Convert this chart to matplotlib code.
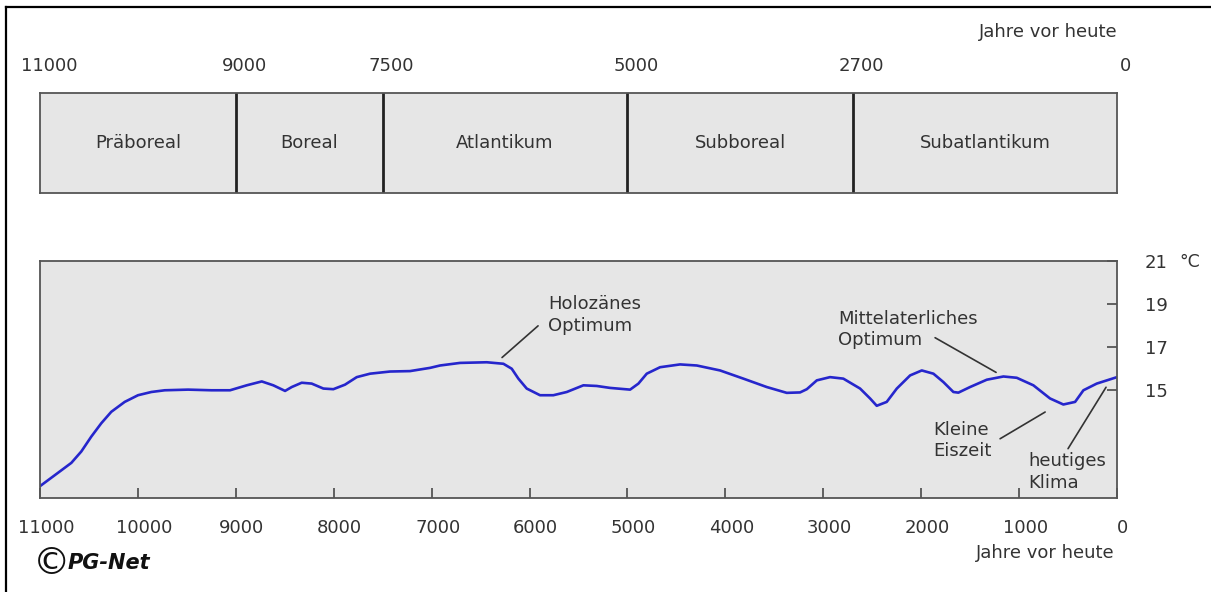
import matplotlib.pyplot as plt
from matplotlib.lines import Line2D
from matplotlib.transforms import ScaledTranslation

# Zeitabschnitte (Jahre vor heute)
grenzen = [11000, 9000, 7500, 5000, 2700, 0]
perioden = ['Präboreal', 'Boreal', 'Atlantikum', 'Subboreal', 'Subatlantikum']

# Temperaturkurve
jahre = [11000, 10816, 10680, 10578, 10476, 10374, 10272, 10135, 9999, 9863,
         9726, 9488, 9250, 9113, 9059, 8889, 8735, 8617, 8497, 8429,
         8327, 8225, 8106, 8004, 7885, 7765, 7629, 7425, 7221, 7016,
         6914, 6710, 6437, 6267, 6182, 6114, 6029, 5893, 5757, 5620,
         5450, 5314, 5178, 4973, 4888, 4803, 4667, 4463, 4292, 4054,
         3816, 3577, 3373, 3237, 3168, 3066, 2931, 2795, 2624, 2522,
         2454, 2352, 2249, 2113, 1994, 1875, 1773, 1671, 1620, 1501,
         1330, 1160, 1024, 854, 684, 548, 428, 343, 207, 0]
temp = [10.55, 11.17, 11.63, 12.16, 12.85, 13.47, 14.0, 14.46, 14.77, 14.92,
        15.0, 15.03, 15.0, 15.0, 15.0, 15.23, 15.41, 15.23, 14.97, 15.15,
        15.35, 15.31, 15.08, 15.05, 15.26, 15.61, 15.77, 15.87, 15.89, 16.04,
        16.15, 16.27, 16.3, 16.23, 16.0, 15.54, 15.08, 14.77, 14.77, 14.92,
        15.23, 15.2, 15.11, 15.03, 15.31, 15.77, 16.07, 16.2, 16.15, 15.92,
        15.54, 15.15, 14.88, 14.9, 15.05, 15.46, 15.61, 15.54, 15.08, 14.62,
        14.28, 14.46, 15.08, 15.69, 15.92, 15.77, 15.38, 14.92, 14.89, 15.15,
        15.49, 15.64, 15.58, 15.23, 14.62, 14.34, 14.46, 15.0, 15.31, 15.61]

x_ticks = [11000, 10000, 9000, 8000, 7000, 6000, 5000, 4000, 3000, 2000, 1000, 0]
y_ticks = [15, 17, 19, 21]

txt = '#333333'
fill = '#e6e6e6'
W, H = 1211, 592

fig = plt.figure(figsize=(W / 100, H / 100), dpi=100)
fig.patch.set_facecolor('white')

# Rahmen links/oben
fig.add_artist(Line2D([6 / W, 6 / W], [0, 1 - 7 / H], color='black', lw=1.6))
fig.add_artist(Line2D([6 / W, 1], [1 - 7 / H, 1 - 7 / H], color='black', lw=1.6))

# --- oberes Diagramm: Perioden ---
ax1 = fig.add_axes([40 / W, 1 - 193 / H, 1077 / W, 100 / H])
ax1.set_xlim(11000, 0)
ax1.set_ylim(0, 1)
ax1.set_facecolor(fill)
for s in ax1.spines.values():
    s.set_color('#555555')
    s.set_linewidth(1.3)
ax1.set_xticks([])
ax1.set_yticks([])
for g in grenzen[1:-1]:
    ax1.axvline(g, color='#222222', lw=2)
for i, name in enumerate(perioden):
    mitte = (grenzen[i] + grenzen[i + 1]) / 2
    ax1.text(mitte, 0.5, name, ha='center', va='center', fontsize=13, color=txt)
shift = ScaledTranslation(9 / 100, 0, fig.dpi_scale_trans)
for g in grenzen:
    ax1.text(g, 1.27, str(g), ha='center', va='center', fontsize=13, color=txt,
             transform=ax1.get_xaxis_transform() + shift)
fig.text(1118 / W, 1 - 32 / H, 'Jahre vor heute', ha='right', va='center',
         fontsize=13, color=txt)

# --- unteres Diagramm: Temperatur ---
ax2 = fig.add_axes([40 / W, 1 - 498 / H, 1077 / W, 237 / H])
ax2.set_xlim(11000, 0)
ax2.set_ylim(10, 21)
ax2.set_facecolor(fill)
for s in ax2.spines.values():
    s.set_color('#555555')
    s.set_linewidth(1.3)
ax2.plot(jahre, temp, color='#2626cc', lw=1.9, solid_joinstyle='round')

ax2.set_xticks(x_ticks)
ax2.set_xticklabels([str(t) for t in x_ticks])
ax2.tick_params(axis='x', direction='in', length=7, width=1.3, color='#555555',
                labelsize=13, labelcolor=txt, pad=15)
xshift = ScaledTranslation(6 / 100, 0, fig.dpi_scale_trans)
for lab in ax2.get_xticklabels():
    lab.set_transform(lab.get_transform() + xshift)

ax2.yaxis.tick_right()
ax2.set_yticks(y_ticks)
ax2.set_yticklabels([str(t) for t in y_ticks])
ax2.tick_params(axis='y', direction='in', length=7, width=1.3, color='#555555',
                labelsize=13, labelcolor=txt, pad=20)
fig.text(1179 / W, 1 - 262 / H, '°C', ha='left', va='center', fontsize=12.5, color=txt)

fig.text(1115 / W, 1 - 553 / H, 'Jahre vor heute', ha='right', va='center',
         fontsize=13, color=txt)

# Beschriftungen mit Hinweislinien
linie = dict(arrowstyle='-', color='#333333', lw=1.2, shrinkA=0, shrinkB=0)
notizen = [
    ('Holozänes\nOptimum', (5811, 18.49), (5913, 17.99), (6281, 16.52)),
    ('Mittelaterliches\nOptimum', (2849, 17.83), (1858, 17.44), (1235, 15.83)),
    ('Kleine\nEiszeit', (1879, 12.66), (1194, 12.75), (734, 13.99)),
    ('heutiges\nKlima', (908, 11.21), (500, 12.29), (112, 15.14)),
]
for label, pos, start, ende in notizen:
    ax2.text(pos[0], pos[1], label, ha='left', va='center', fontsize=13,
             color=txt, linespacing=1.25)
    ax2.annotate('', xy=ende, xytext=start, arrowprops=linie)

# Copyright
fig.text(33 / W, 1 - 564 / H, '©', ha='left', va='center', fontsize=27, color='#111111')
fig.text(68 / W, 1 - 563 / H, 'PG-Net', ha='left', va='center', fontsize=15,
         fontweight='bold', fontstyle='italic', color='#111111')

fig.savefig('out.png', dpi=100)
